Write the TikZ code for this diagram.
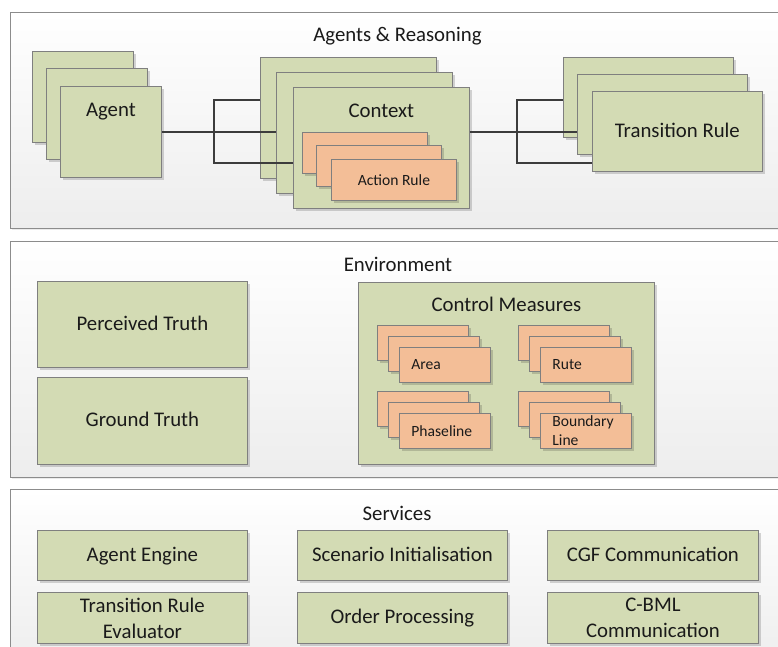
\documentclass[tikz,border=0pt]{standalone}
\usepackage{fontspec}
\setmainfont{Carlito}
\usetikzlibrary{shadows}
\definecolor{gfill}{HTML}{D3DBB4}
\definecolor{ofill}{HTML}{F3BE97}
\definecolor{bline}{HTML}{7F7F7F}
\definecolor{pline}{HTML}{8C8C8C}
\definecolor{connc}{HTML}{3C3C3C}
\definecolor{txt}{HTML}{1A1A1A}
\begin{document}
\begin{tikzpicture}[x=1pt,y=-1pt,
  every node/.style={text=txt},
  panel/.style={draw=pline, line width=0.8pt, top color=white, bottom color=black!7,
    drop shadow={shadow xshift=1.5pt, shadow yshift=-1.5pt, fill=black, opacity=0.08}},
  box/.style={draw=bline, line width=0.8pt, anchor=north west, inner sep=0pt,
    drop shadow={shadow xshift=2.5pt, shadow yshift=-2.5pt, fill=black, opacity=0.16}},
  sz/.style 2 args={minimum width=#1pt, minimum height=#2pt},
  one/.style={text height=14.4pt, text depth=2.5pt},
  gbox/.style={box, fill=gfill, font=\fontsize{20.8}{26}\selectfont, align=center},
  obox/.style={box, fill=ofill, font=\fontsize{15.6}{19}\selectfont, align=center},
  lbox/.style={box, fill=ofill, font=\fontsize{15.6}{19}\selectfont, align=left,
    text width=67pt, inner xsep=12pt, minimum height=35pt},
  big/.style={font=\fontsize{20.8}{26}\selectfont, anchor=base, inner sep=0pt},
  connline/.style={draw=connc, line width=2.8pt}
]
\useasboundingbox (0,0) rectangle (778,646);
\clip (0,0) rectangle (778,646);
\fill[white] (0,0) rectangle (778,646);

% panels
\path[panel] (10,12) rectangle (800,228);
\path[panel] (10,241) rectangle (800,477);
\path[panel] (10,489) rectangle (800,670);

% panel titles
\node[big] (t1) at (397.5,41.5) {Agents \& Reasoning};
\node[big] (t2) at (398,271) {Environment};
\node[big] (t3) at (397,520) {Services};

% ---------- Agents & Reasoning ----------
\node[gbox, sz={101}{91}] (ag1) at (32,51) {};
\node[gbox, sz={101}{91}] (ag2) at (46,68) {};
\node[gbox, sz={101}{91}] (ag3) at (60,86) {};
\node[big, yshift=-30pt] (agt) at (ag3.north) {Agent};

\node[gbox, sz={176}{121}] (ctx1) at (260,57) {};
\node[gbox, sz={176}{121}] (ctx2) at (276,72) {};
\node[gbox, sz={176}{121}] (ctx3) at (293,87) {};
\node[big, yshift=-30pt] (ctxt) at (ctx3.north) {Context};

\node[obox, sz={125}{41}] (ar1) at (302,132) {};
\node[obox, sz={125}{41}] (ar2) at (316,145) {};
\node[obox, sz={125}{41}] (ar3) at (331,159) {Action Rule};

\node[gbox, sz={170}{80}] (tr1) at (563,57) {};
\node[gbox, sz={170}{80}] (tr2) at (577,74) {};
\node[gbox, one, sz={170}{80}] (tr3) at (592,91) {Transition Rule};

% connectors
\coordinate (lt) at (214,100);
\coordinate (lb) at (214,163);
\coordinate (rt) at (517,100);
\coordinate (rb) at (517,163);
\draw[connline] (ag3.east) -- (ctx2.west |- ag3.east);
\draw[connline] (ctx1.west |- lt) -- (lt) -- (lb) -- (ctx3.west |- lb);
\draw[connline] (ctx3.east |- ag3.east) -- (tr2.west |- ag3.east);
\draw[connline] (tr1.west |- rt) -- (rt) -- (rb) -- (tr3.west |- rb);

% ---------- Environment ----------
\node[gbox, one, sz={210}{86}] (pt) at (37,281) {Perceived Truth};
\node[gbox, one, sz={210}{87}] (gt) at (37,377) {Ground Truth};

\node[gbox, sz={296}{182}] (cm) at (358,282) {};
\node[big, yshift=-29.5pt] (cmt) at (cm.north) {Control Measures};

\node[lbox] (a1) at (377,325) {};
\node[lbox] (a2) at (388,336) {};
\node[lbox] (a3) at (399,347) {Area};

\node[lbox] (r1) at (518,325) {};
\node[lbox] (r2) at (529,336) {};
\node[lbox] (r3) at (540,347) {Rute};

\node[lbox] (p1) at (377,391) {};
\node[lbox] (p2) at (388,402) {};
\node[lbox] (p3) at (399,413) {Phaseline};

\node[lbox] (b1) at (518,391) {};
\node[lbox] (b2) at (529,402) {};
\node[lbox] (b3) at (540,413) {Boundary\\Line};

% ---------- Services ----------
\node[gbox, one, sz={210}{50}] (s1) at (37,530) {Agent Engine};
\node[gbox, one, sz={210}{50}] (s2) at (297,530) {Scenario Initialisation};
\node[gbox, one, sz={211}{50}] (s3) at (547,530) {CGF Communication};
\node[gbox, sz={210}{51}] (s4) at (37,592) {Transition Rule\\Evaluator};
\node[gbox, one, sz={210}{51}] (s5) at (297,592) {Order Processing};
\node[gbox, sz={211}{51}] (s6) at (547,592) {C-BML\\Communication};
\end{tikzpicture}
\end{document}
